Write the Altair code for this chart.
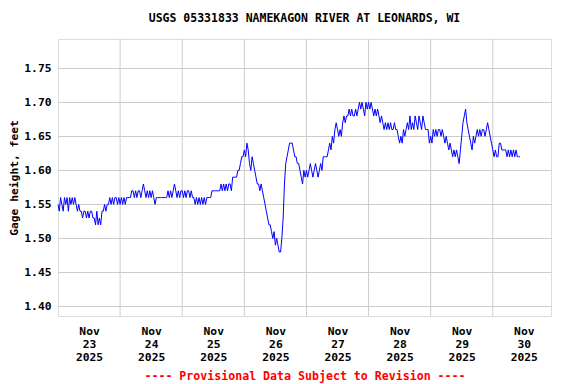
import altair as alt
import pandas as pd

TITLE = "USGS 05331833 NAMEKAGON RIVER AT LEONARDS, WI"
Y_TITLE = "Gage height, feet"
FOOTER = "---- Provisional Data Subject to Revision ----"

START = "2025-11-23T00:00:00Z"   # first reading, 30-minute spacing
STEP = "30min"

# gage height (feet), read per day at 30-minute intervals
nov23 = [1.55, 1.54, 1.56, 1.55, 1.54, 1.56, 1.55, 1.56, 1.54, 1.56, 1.55, 1.56, 1.55, 1.56,
         1.55, 1.54, 1.55, 1.54,
         1.54, 1.53, 1.54, 1.54, 1.53, 1.54, 1.53, 1.54, 1.54, 1.53,
         1.53, 1.52, 1.54, 1.52, 1.53, 1.52, 1.54,
         1.54, 1.55, 1.54, 1.55,
         1.55, 1.56, 1.55, 1.56, 1.55, 1.56, 1.56, 1.55, 1.56]
nov24 = [1.55, 1.56, 1.55, 1.56, 1.55, 1.56, 1.56, 1.56,
         1.56, 1.57, 1.57, 1.56, 1.57, 1.56, 1.57, 1.57, 1.56, 1.57,
         1.58, 1.57,
         1.56, 1.57, 1.56, 1.57, 1.56, 1.57, 1.56,
         1.55,
         1.56, 1.56, 1.56, 1.56, 1.56, 1.56, 1.56, 1.56, 1.56,
         1.57, 1.56, 1.57, 1.56, 1.57, 1.58, 1.57, 1.56, 1.57, 1.56, 1.57]
nov25 = [1.57, 1.56, 1.57, 1.56, 1.57, 1.57, 1.56, 1.57, 1.56, 1.56, 1.55,
         1.56, 1.55, 1.56, 1.55, 1.56, 1.55, 1.56, 1.55,
         1.56, 1.56, 1.56, 1.56,
         1.57, 1.57, 1.57, 1.57, 1.57, 1.57, 1.57,
         1.58, 1.57, 1.58, 1.57, 1.58, 1.57, 1.58, 1.58, 1.57,
         1.59, 1.59, 1.59, 1.59,
         1.60, 1.60,
         1.61, 1.62, 1.62]
nov26 = [1.63, 1.62, 1.64, 1.63,
         1.61, 1.60, 1.62, 1.61, 1.60,
         1.59, 1.58, 1.58,
         1.57, 1.58, 1.57, 1.56,
         1.55, 1.54, 1.53,
         1.52, 1.52, 1.51, 1.50,
         1.51, 1.49, 1.50,
         1.49, 1.48, 1.48,
         1.50, 1.53, 1.58, 1.61, 1.62, 1.63,
         1.64, 1.64, 1.64,
         1.63, 1.62, 1.62,
         1.61, 1.61,
         1.60, 1.59, 1.58,
         1.60, 1.59]
nov27 = [1.60, 1.59, 1.60, 1.61, 1.60, 1.59, 1.60, 1.61, 1.60, 1.59, 1.60,
         1.61, 1.60,
         1.62, 1.62, 1.62, 1.62,
         1.63, 1.64, 1.63,
         1.65, 1.64,
         1.66, 1.67, 1.66, 1.65,
         1.66, 1.65,
         1.67, 1.68, 1.67, 1.68,
         1.68, 1.69, 1.68, 1.69, 1.68, 1.68,
         1.69, 1.68,
         1.69, 1.70, 1.69, 1.70,
         1.69, 1.68, 1.70, 1.69]
nov28 = [1.70, 1.69, 1.70,
         1.69, 1.68, 1.69, 1.68, 1.69,
         1.68, 1.67, 1.68, 1.67,
         1.66, 1.67, 1.66, 1.67,
         1.66, 1.67, 1.66, 1.66, 1.67,
         1.66, 1.66,
         1.65, 1.64, 1.65, 1.64,
         1.66, 1.65, 1.66,
         1.67, 1.66, 1.68, 1.66, 1.67, 1.66, 1.68, 1.67,
         1.66, 1.68, 1.67, 1.66, 1.68, 1.67, 1.66,
         1.66, 1.66, 1.64]
nov29 = [1.65, 1.64,
         1.66, 1.65, 1.66, 1.65, 1.66, 1.66, 1.65, 1.66,
         1.65, 1.64, 1.65,
         1.64, 1.63, 1.64, 1.63,
         1.62, 1.63, 1.62, 1.63, 1.62,
         1.61, 1.63, 1.65,
         1.67, 1.68, 1.69,
         1.67, 1.66,
         1.65, 1.64, 1.63,
         1.65, 1.64, 1.65,
         1.66, 1.65, 1.66, 1.65, 1.66, 1.66, 1.65, 1.66, 1.67,
         1.66, 1.65, 1.64]
nov30 = [1.63, 1.62, 1.63, 1.62, 1.62,
         1.64, 1.64,
         1.63, 1.63, 1.63, 1.63,
         1.62, 1.63, 1.62, 1.63, 1.62, 1.63, 1.62, 1.63,
         1.62, 1.62, 1.62]

heights = nov23 + nov24 + nov25 + nov26 + nov27 + nov28 + nov29 + nov30

# day boundaries (midnight gridlines); labels sit at noon of each day
label_day_numbers = [23, 24, 25, 26, 27, 28, 29, 30]
midnights = ["2025-11-24T00:00:00Z", "2025-11-25T00:00:00Z", "2025-11-26T00:00:00Z",
             "2025-11-27T00:00:00Z", "2025-11-28T00:00:00Z", "2025-11-29T00:00:00Z",
             "2025-11-30T00:00:00Z"]
y_ticks = [1.40, 1.45, 1.50, 1.55, 1.60, 1.65, 1.70, 1.75]
x_domain = ["2025-11-23T00:00:00Z", "2025-11-30T22:30:00Z"]
y_domain = [1.386, 1.793]

times = pd.date_range(START, periods=len(heights), freq=STEP)
df = pd.DataFrame({"time": times.strftime("%Y-%m-%dT%H:%M:%SZ"), "height": heights})
grid_df = pd.DataFrame({"time": midnights})

FONT = "DejaVu Sans Mono"
FS = 11.3

x_scale = alt.Scale(type="utc", domain=x_domain, nice=False)
y_scale = alt.Scale(domain=y_domain, nice=False, zero=False)

label_vals = [alt.DateTime(year=2025, month=11, date=d, hours=12, utc=True)
              for d in label_day_numbers]

x_axis = alt.Axis(
    values=label_vals,
    grid=False,
    ticks=False,
    domain=False,
    labelExpr="[utcFormat(datum.value, '%b'), utcFormat(datum.value, '%d'), utcFormat(datum.value, '%Y')]",
    labelLineHeight=13,
    labelPadding=9,
    labelFont=FONT,
    labelFontSize=FS,
    labelFontWeight="bold",
    labelColor="black",
    labelAngle=0,
    title=FOOTER,
    titleFont=FONT,
    titleFontSize=11.6,
    titleFontWeight="bold",
    titleColor="#ff0000",
    titlePadding=8,
)

y_axis = alt.Axis(
    values=y_ticks,
    format=".2f",
    grid=True,
    gridColor="#cccccc",
    gridWidth=1,
    ticks=False,
    domain=False,
    labelPadding=7,
    labelFont=FONT,
    labelFontSize=FS,
    labelFontWeight="bold",
    labelColor="black",
    title=Y_TITLE,
    titleFont=FONT,
    titleFontSize=FS,
    titleFontWeight="bold",
    titleColor="black",
    titlePadding=4,
)

vgrid = alt.Chart(grid_df).mark_rule(color="#cccccc", strokeWidth=1).encode(
    x=alt.X("time:T", scale=x_scale, axis=x_axis)
)

line = alt.Chart(df).mark_line(color="#0000ff", strokeWidth=1, interpolate="linear").encode(
    x=alt.X("time:T", scale=x_scale, axis=x_axis),
    y=alt.Y("height:Q", scale=y_scale, axis=y_axis),
)

chart = alt.layer(vgrid, line).properties(
    width=493,
    height=277,
    title=alt.TitleParams(TITLE, font=FONT, fontSize=11.5, fontWeight="bold",
                          anchor="middle", offset=14, color="black"),
    autosize=alt.AutoSizeParams(type="none"),
    padding={"left": 50, "top": 31, "right": 10, "bottom": 67},
).configure_view(stroke="black", strokeWidth=1.5).configure(background="white")

chart.save("out.html", embed_options={"renderer": "svg", "actions": False})
